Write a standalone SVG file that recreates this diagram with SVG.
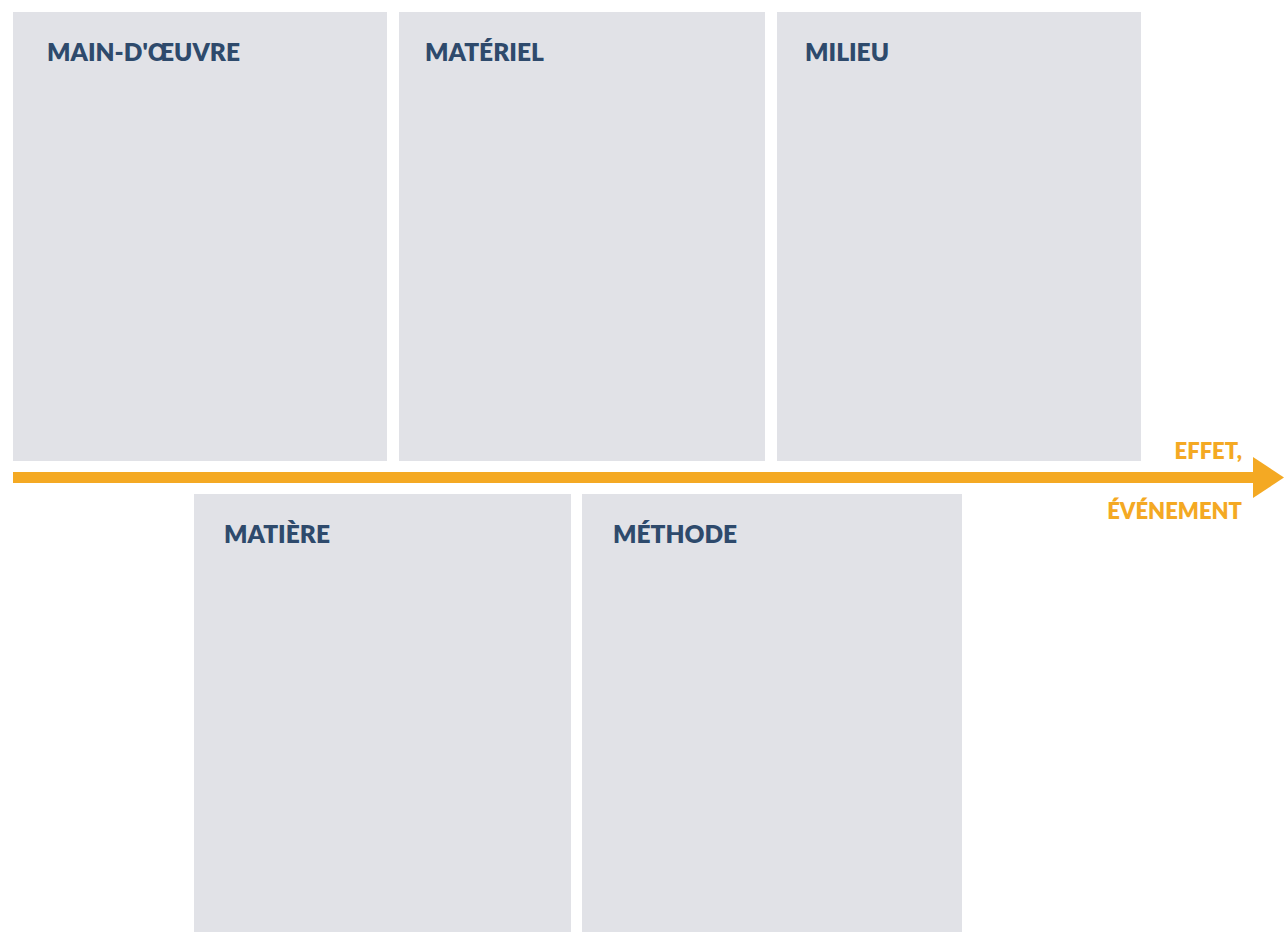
<svg xmlns="http://www.w3.org/2000/svg" width="1284" height="932" viewBox="0 0 1284 932">
<style>
.box{fill:#e1e2e7}
.lbl{font-family:Lato,"Open Sans","Liberation Sans",sans-serif;font-weight:800;font-size:24.5px;fill:#2e4a6c}
.eff{font-family:Lato,"Open Sans","Liberation Sans",sans-serif;font-weight:800;font-size:22px;fill:#f4a923;text-anchor:end}
</style>
<rect width="1284" height="932" fill="#ffffff"/>
<g id="main-doeuvre"><rect class="box" x="13" y="12" width="374" height="449"/><text class="lbl" x="47" y="61">MAIN-D'ŒUVRE</text></g>
<g id="materiel"><rect class="box" x="399" y="12" width="366" height="449"/><text class="lbl" x="425" y="61">MATÉRIEL</text></g>
<g id="milieu"><rect class="box" x="777" y="12" width="364" height="449"/><text class="lbl" x="805" y="61">MILIEU</text></g>
<g id="matiere"><rect class="box" x="194" y="494" width="377" height="438"/><text class="lbl" x="224" y="543">MATIÈRE</text></g>
<g id="methode"><rect class="box" x="582" y="494" width="380" height="438"/><text class="lbl" x="613" y="543">MÉTHODE</text></g>
<g id="connectors">
<rect x="13" y="472" width="1241" height="11" fill="#f4a923"/>
<polygon points="1253,457 1284,477.5 1253,498" fill="#f4a923"/>
</g>
<g id="effet"><text class="eff" x="1242" y="459">EFFET,</text><text class="eff" x="1242" y="519">ÉVÉNEMENT</text></g>
</svg>
